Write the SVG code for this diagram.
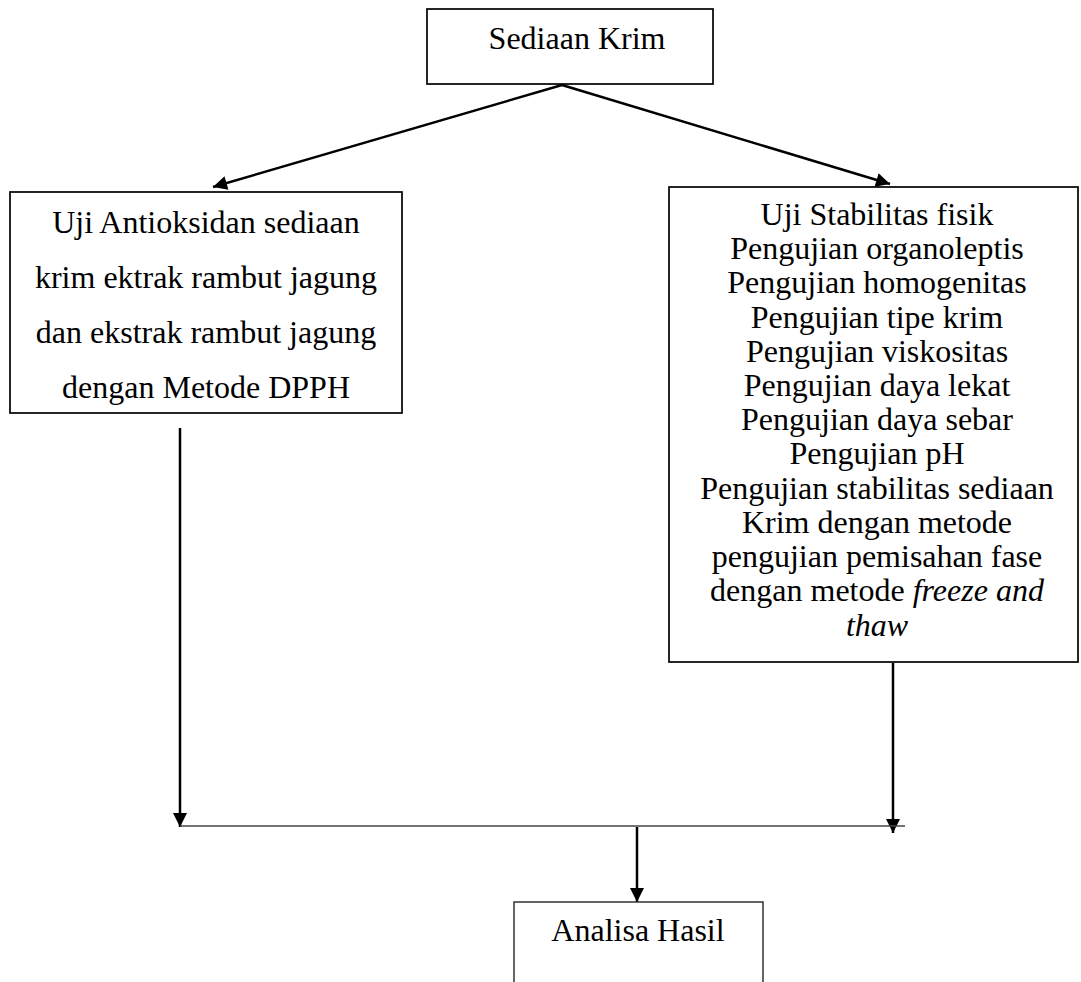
<svg xmlns="http://www.w3.org/2000/svg" width="1081" height="982" viewBox="0 0 1081 982">
<style>
.box{fill:#fff;stroke:#000;stroke-width:1.7}
.box2{fill:none;stroke:#333;stroke-width:1.5}
text{font-family:'Liberation Serif','Times New Roman',serif;font-size:32px;fill:#000;text-anchor:middle}
.ln{stroke:#000;stroke-width:2.5;fill:none}
.hl{stroke:#444;stroke-width:1.7;fill:none}
</style>
<defs>
<marker id="ah" viewBox="0 0 10 10" refX="10" refY="5" markerWidth="17" markerHeight="14" markerUnits="userSpaceOnUse" orient="auto">
<path d="M0,0 L10,5 L0,10 z" fill="#000"/>
</marker>
</defs>
<rect width="1081" height="982" fill="#fff"/>
<g id="connectors">
<line class="ln" x1="562" y1="85" x2="213" y2="187" marker-end="url(#ah)"/>
<line class="ln" x1="562" y1="85" x2="890" y2="184" marker-end="url(#ah)"/>
<line class="ln" x1="180" y1="428" x2="180" y2="827" marker-end="url(#ah)"/>
<line class="ln" x1="893" y1="663" x2="893" y2="833" marker-end="url(#ah)"/>
<line class="hl" x1="180" y1="826" x2="905" y2="826"/>
<line class="ln" x1="637" y1="827" x2="637" y2="902" marker-end="url(#ah)"/>
</g>
<g id="node-sediaan">
<rect class="box" x="427" y="9" width="286" height="75"/>
<text x="577" y="49">Sediaan Krim</text>
</g>
<g id="node-antioksidan">
<rect class="box" x="10" y="192" width="392" height="221"/>
<text x="206" y="233">Uji Antioksidan sediaan</text>
<text x="206" y="288">krim ektrak rambut jagung</text>
<text x="206" y="343">dan ekstrak rambut jagung</text>
<text x="206" y="398">dengan Metode DPPH</text>
</g>
<g id="node-stabilitas">
<rect class="box" x="669" y="187" width="409" height="475"/>
<text x="877" y="225">Uji Stabilitas fisik</text>
<text x="877" y="259">Pengujian organoleptis</text>
<text x="877" y="293">Pengujian homogenitas</text>
<text x="877" y="328">Pengujian tipe krim</text>
<text x="877" y="362">Pengujian viskositas</text>
<text x="877" y="396">Pengujian daya lekat</text>
<text x="877" y="430">Pengujian daya sebar</text>
<text x="877" y="464">Pengujian pH</text>
<text x="877" y="499">Pengujian stabilitas sediaan</text>
<text x="877" y="533">Krim dengan metode</text>
<text x="877" y="567">pengujian pemisahan fase</text>
<text x="877" y="601">dengan metode <tspan font-style="italic">freeze and</tspan></text>
<text x="877" y="636" font-style="italic">thaw</text>
</g>
<g id="node-analisa">
<path class="box2" d="M514,982 L514,902 L763,902 L763,982"/>
<text x="638" y="941">Analisa Hasil</text>
</g>
</svg>
